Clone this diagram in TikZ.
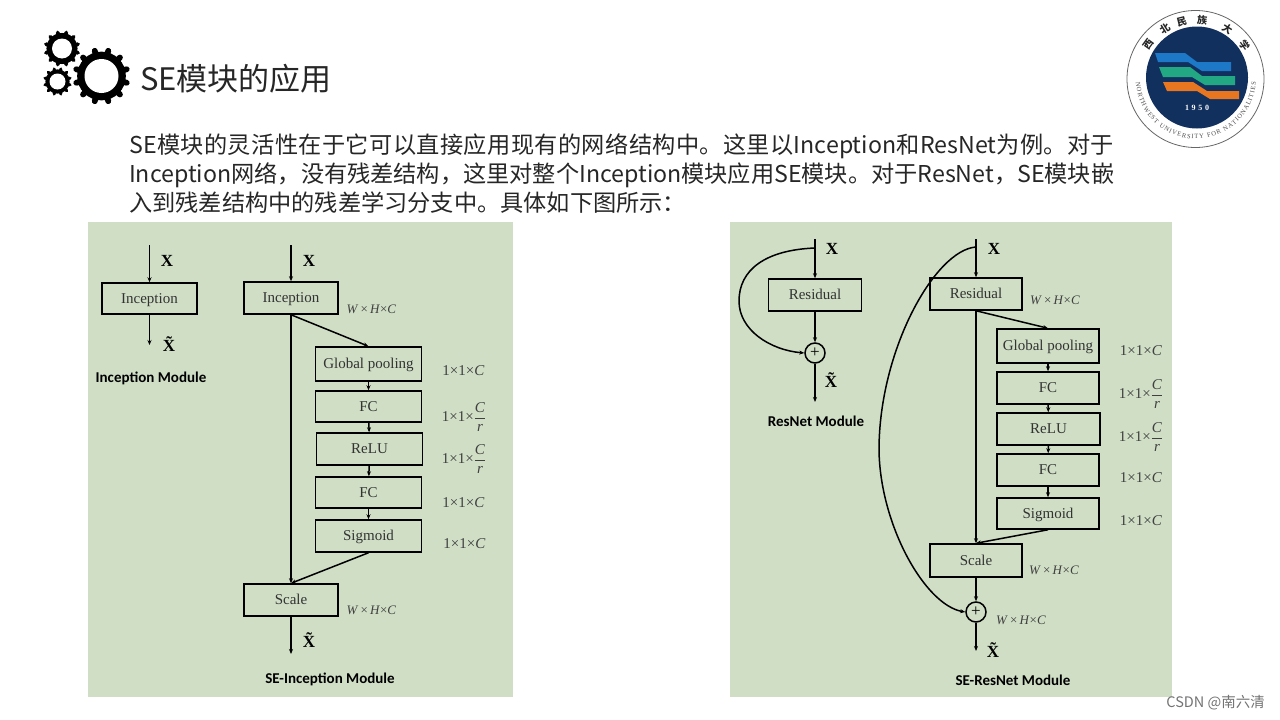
\documentclass[tikz,border=0pt]{standalone}
\usepackage{fontspec}
\usepackage{amsmath}
\usetikzlibrary{calc}
\usetikzlibrary{arrows.meta}
\usetikzlibrary{decorations.text}
\setmainfont{Liberation Serif}
\newfontfamily\cjkfont{Noto Sans CJK SC}
\newfontfamily\capfont{Carlito}
\XeTeXlinebreaklocale "zh"
\XeTeXlinebreakskip=0pt plus 2pt minus 1pt
\definecolor{panelgreen}{HTML}{CFDEC5}
\definecolor{titlegray}{HTML}{262626}
\definecolor{logonavy}{HTML}{12305E}
\definecolor{logoblue}{HTML}{1D78C8}
\definecolor{logogreen}{HTML}{22A882}
\definecolor{logoorange}{HTML}{E8751F}

\newcommand{\drawgear}[3]{%
    \fill[black] (#1) circle (#2*0.84);
    \foreach \a in {0,30,...,330} {
        \draw[black, line width=#2*0.2pt, line cap=round] (#1) -- ($(#1)+(\a+15:#2*0.9)$);
    }
    \fill[white] (#1) circle (#3);
}

\begin{document}
\begin{tikzpicture}[
    x=1pt, y=-1pt,
    >={Stealth[length=5pt,width=4pt]},
    block/.style={draw=black, line width=1.5pt, inner sep=0pt, text=black!80,
                  text height=10pt, text depth=1pt,
                  font=\fontsize{15}{15}\selectfont},
    wide/.style={block, minimum width=94pt, minimum height=32pt},
    narrow/.style={block, minimum width=106pt, minimum height=32pt},
    plus/.style={draw=black, circle, line width=1.5pt, minimum size=20pt, inner sep=0pt,
                 font=\fontsize{17}{17}\selectfont},
    link/.style={line width=1.5pt},
    flow/.style={link, ->},
    dim/.style={inner sep=0pt, text=black!75, font=\fontsize{13}{13}\selectfont},
    dimb/.style={inner sep=0pt, text=black!75, font=\fontsize{15}{15}\selectfont},
    var/.style={inner sep=0pt, font=\fontsize{17}{17}\selectfont\bfseries},
    modname/.style={inner sep=0pt, font=\capfont\fontsize{15}{15}\selectfont\bfseries},
]
\useasboundingbox (0,0) rectangle (1280,720);

% title
\drawgear{101.5,76}{29}{17}
\drawgear{62,48.5}{18.5}{10}
\drawgear{57.5,81.5}{14.5}{8}
\node[anchor=west, inner sep=0pt, text=titlegray, font=\cjkfont\fontsize{31}{31}\selectfont]
    (title) at (140,79) {SE模块的应用};

% paragraph
\node[anchor=north west, inner sep=0pt, text width=985pt, align=justify, text=titlegray,
      font=\cjkfont\fontsize{23.2}{29}\selectfont]
    (intro) at (129,134) {SE模块的灵活性在于它可以直接应用现有的网络结构中。这里以Inception和ResNet为例。对于\linebreak
    Inception网络，没有残差结构，这里对整个Inception模块应用SE模块。对于ResNet，SE模块嵌\linebreak
    入到残差结构中的残差学习分支中。具体如下图所示：};

% logo
\fill[logonavy] (1197,77.5) circle (51);
\draw[black!60, line width=0.8pt] (1195.5,79) circle (68.5);
\fill[logoblue] (1155,53) -- (1185,53) -- (1197,62) -- (1231,62) -- (1231,71) -- (1202,71) -- (1188,62) -- (1158,62) -- cycle;
\fill[logogreen] (1159,67) -- (1190,67) -- (1202,76) -- (1235,76) -- (1235,85) -- (1205,85) -- (1192,77) -- (1163,77) -- cycle;
\fill[logoorange] (1163,82) -- (1193,82) -- (1207,91) -- (1239,91) -- (1239,99) -- (1210,99) -- (1197,91) -- (1167,91) -- cycle;
\node[inner sep=0pt, text=white, font=\fontsize{8}{8}\selectfont\bfseries] (logoyear) at (1197,108) {1\,\,9\,\,5\,\,0};
\foreach \a/\c in {144/西,122/北,104/民,84/族,58/大,35/学} {
    \node[inner sep=0pt, rotate=\a-90, text=black!85, font=\cjkfont\fontsize{10}{10}\selectfont\bfseries]
        at ($(1196,79)+(\a:59 and -59)$) {\c};
}
\path[postaction={decorate, decoration={text along path, text align={fit to path},
      text={|\fontsize{6.5}{6.5}\selectfont\color{black!70}|NORTHWEST UNIVERSITY FOR NATIONALITIES}}}]
    (1136,82) arc[start angle=183, end angle=357, x radius=60, y radius=-60];

% left panel
\fill[panelgreen] (88,222) rectangle (513,697);
\coordinate (ainN) at (149.5,245);
\coordinate (aoutS) at (149.5,345);
\node[block, minimum width=95pt, minimum height=31pt] (aIncep) at (149.5,298.5) {Inception};
\draw[flow] (ainN) -- (aIncep.north);
\draw[flow] (aIncep.south) -- (aoutS);
\node[var] (aX) at (167,261) {X};
\node[var] (aXt) at (169,344) {X̃};
\node[modname] (aName) at (151,378) {Inception Module};

\coordinate (binN) at (291,245);
\coordinate (boutS) at (291,654);
\node[wide] (bIncep) at (291,298) {Inception};
\node[narrow, minimum height=34pt] (bPool) at (368.5,364) {Global pooling};
\node[narrow, minimum height=31pt] (bFc) at (368.5,406.5) {FC};
\node[narrow, minimum height=32pt] (bRelu) at (369.5,449) {ReLU};
\node[narrow, minimum height=31pt] (bFcb) at (368.5,492.5) {FC};
\node[narrow, minimum height=32pt] (bSig) at (368.5,536) {Sigmoid};
\node[wide] (bScale) at (291,600) {Scale};
\draw[flow] (binN) -- (bIncep.north);
\draw[flow] (bIncep.south) -- (bPool.north);
\draw[flow] (bPool) -- (bFc);
\draw[flow] (bFc) -- (bRelu);
\draw[flow] (bRelu) -- (bFcb);
\draw[flow] (bFcb) -- (bSig);
\draw[flow] (bIncep.south) -- (bScale.north);
\draw[flow] (bSig.south) -- (bScale.north);
\draw[flow] (bScale.south) -- (boutS);
\node[var] (bX) at (309,261) {X};
\node[var] (bXt) at (309,640) {X̃};
\node[modname] (bName) at (330,679) {SE-Inception Module};
\node[dim] (bd1) at (371.5,309) {\textit{W}\,×\,\textit{H}×\textit{C}};
\node[dimb] (bd2) at (463.5,371) {1×1×\textit{C}};
\node[dimb] (bd3) at (464,417) {1×1×$\dfrac{\textit{C}}{\textit{r}}$};
\node[dimb] (bd4) at (464,459) {1×1×$\dfrac{\textit{C}}{\textit{r}}$};
\node[dimb] (bd5) at (463.5,503) {1×1×\textit{C}};
\node[dimb] (bd6) at (464.5,544) {1×1×\textit{C}};
\node[dim] (bd7) at (371.5,610) {\textit{W}\,×\,\textit{H}×\textit{C}};

% right panel
\fill[panelgreen] (730,222) rectangle (1172,697);
\coordinate (cinN) at (815,239);
\coordinate (cbr) at (815,248);
\coordinate (coutS) at (815,402);
\node[block, minimum width=93pt, minimum height=32pt] (cRes) at (815,295) {Residual};
\node[plus] (cAdd) at (815,353) {+};
\draw[flow] (cinN) -- (cRes.north);
\draw[flow] (cRes.south) -- (cAdd.north);
\draw[flow] (cAdd.south) -- (coutS);
\draw[flow] (cbr) .. controls (765,250) and (739,270) .. (739,301) .. controls (739,330) and (770,350) .. (cAdd.west);
\node[var] (cX) at (832,249) {X};
\node[var] (cXt) at (831,380) {X̃};
\node[modname] (cName) at (816,421) {ResNet Module};

\coordinate (dinN) at (976,239);
\coordinate (dbr) at (976,247);
\coordinate (doutS) at (976,651);
\node[block, minimum width=92pt, minimum height=32pt] (dRes) at (976,294) {Residual};
\node[block, minimum width=102pt, minimum height=34pt] (dPool) at (1048,346) {Global pooling};
\node[block, minimum width=102pt, minimum height=32pt] (dFc) at (1048,388) {FC};
\node[block, minimum width=103pt, minimum height=32pt] (dRelu) at (1048.5,429) {ReLU};
\node[block, minimum width=102pt, minimum height=32pt] (dFcb) at (1048,470) {FC};
\node[block, minimum width=102pt, minimum height=31pt] (dSig) at (1048,513.5) {Sigmoid};
\node[block, minimum width=92pt, minimum height=33pt] (dScale) at (976,560.5) {Scale};
\node[plus] (dAdd) at (976,612) {+};
\draw[flow] (dinN) -- (dRes.north);
\draw[flow] (dRes.south) -- (dPool.north);
\draw[flow] (dPool) -- (dFc);
\draw[flow] (dFc) -- (dRelu);
\draw[flow] (dRelu) -- (dFcb);
\draw[flow] (dFcb) -- (dSig);
\draw[flow] (dRes.south) -- (dScale.north);
\draw[flow] (dSig.south) -- (dScale.north);
\draw[flow] (dScale.south) -- (dAdd.north);
\draw[flow] (dAdd.south) -- (doutS);
\draw[flow] (dbr) .. controls (935,250) and (879,350) .. (879,450) .. controls (880,525) and (925,605) .. (dAdd.west);
\node[var] (dX) at (994,249) {X};
\node[var] (dXt) at (993,650) {X̃};
\node[modname] (dName) at (1013,680) {SE-ResNet Module};
\node[dim] (dd1) at (1055,300) {\textit{W}\,×\,\textit{H}×\textit{C}};
\node[dimb] (dd2) at (1141,351) {1×1×\textit{C}};
\node[dimb] (dd3) at (1141,394) {1×1×$\dfrac{\textit{C}}{\textit{r}}$};
\node[dimb] (dd4) at (1141,437) {1×1×$\dfrac{\textit{C}}{\textit{r}}$};
\node[dimb] (dd5) at (1141,478) {1×1×\textit{C}};
\node[dimb] (dd6) at (1141,521) {1×1×\textit{C}};
\node[dim] (dd7) at (1054,570) {\textit{W}\,×\,\textit{H}×\textit{C}};
\node[dim] (dd8) at (1021,620) {\textit{W}\,×\,\textit{H}×\textit{C}};

% watermark
\node[anchor=east, inner sep=0pt, text=black!55, font=\cjkfont\fontsize{14.5}{14.5}\selectfont]
    (mark) at (1265,703) {CSDN @南六清};
\end{tikzpicture}
\end{document}
